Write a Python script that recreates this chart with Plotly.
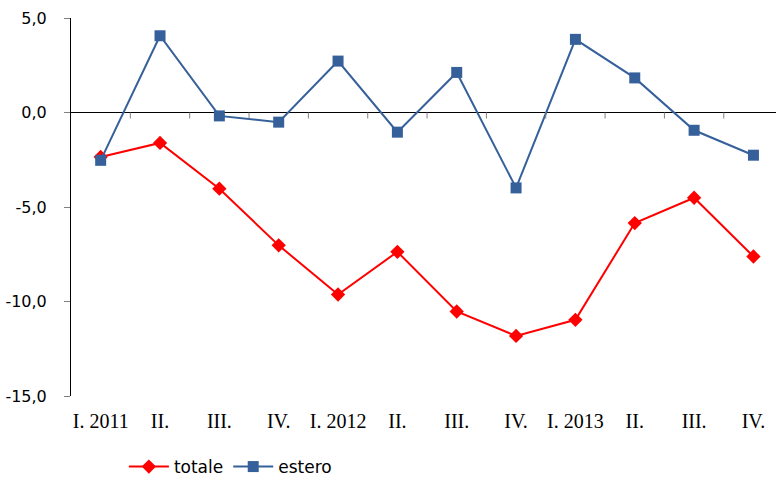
import plotly.graph_objects as go

# Quarterly labels
quarters = ["I. 2011", "II.", "III.", "IV.",
            "I. 2012", "II.", "III.", "IV.",
            "I. 2013", "II.", "III.", "IV."]

# Series values (percent changes)
totale = [-2.35, -1.61, -4.03, -7.03, -9.63, -7.37,
          -10.53, -11.82, -10.97, -5.85, -4.51, -7.62]
estero = [-2.53, 4.06, -0.18, -0.51, 2.72, -1.04,
          2.12, -3.99, 3.87, 1.83, -0.94, -2.26]

y_ticks = [5, 0, -5, -10, -15]
y_tick_text = ["5,0", "0,0", "-5,0", "-10,0", "-15,0"]

RED = "#FF0000"
BLUE = "#36609A"

x = list(range(len(quarters)))

fig = go.Figure()
fig.add_trace(go.Scatter(
    x=x, y=totale, name="totale", mode="lines+markers",
    line=dict(color=RED, width=2),
    marker=dict(symbol="diamond", size=11, color=RED),
))
fig.add_trace(go.Scatter(
    x=x, y=estero, name="estero", mode="lines+markers",
    line=dict(color=BLUE, width=2),
    marker=dict(symbol="square", size=11, color=BLUE),
))

# small tick marks hanging below the zero line, between quarters
for b in range(len(quarters) - 1):
    fig.add_shape(
        type="line", xref="x", yref="y",
        x0=b + 0.5, x1=b + 0.5,
        ysizemode="pixel", yanchor=0, y0=0, y1=-6,
        line=dict(color="#808080", width=1),
    )

fig.update_layout(
    width=776, height=479,
    margin=dict(l=71, r=0, t=18, b=83, autoexpand=False),
    paper_bgcolor="white", plot_bgcolor="white",
    showlegend=True,
    legend=dict(
        orientation="h", x=0.075, xanchor="left",
        yref="container", y=0.025, yanchor="middle",
        font=dict(family="DejaVu Sans", size=17, color="black"),
        itemwidth=40, tracegroupgap=0,
    ),
    xaxis=dict(
        range=[-0.5, 11.38],
        tickmode="array", tickvals=x, ticktext=quarters,
        ticks="", showgrid=False, zeroline=False, showline=False,
        tickfont=dict(family="Liberation Serif", size=20, color="black"),
        ticklabelstandoff=11,
    ),
    yaxis=dict(
        range=[-15, 5],
        tickmode="array", tickvals=y_ticks, ticktext=y_tick_text,
        ticks="outside", ticklen=6, tickcolor="#808080",
        showgrid=False,
        zeroline=True, zerolinecolor="black", zerolinewidth=1,
        showline=True, linecolor="black", linewidth=1,
        tickfont=dict(family="DejaVu Sans", size=16, color="black"),
        ticklabelstandoff=14,
    ),
)

fig.write_html("out.html")
